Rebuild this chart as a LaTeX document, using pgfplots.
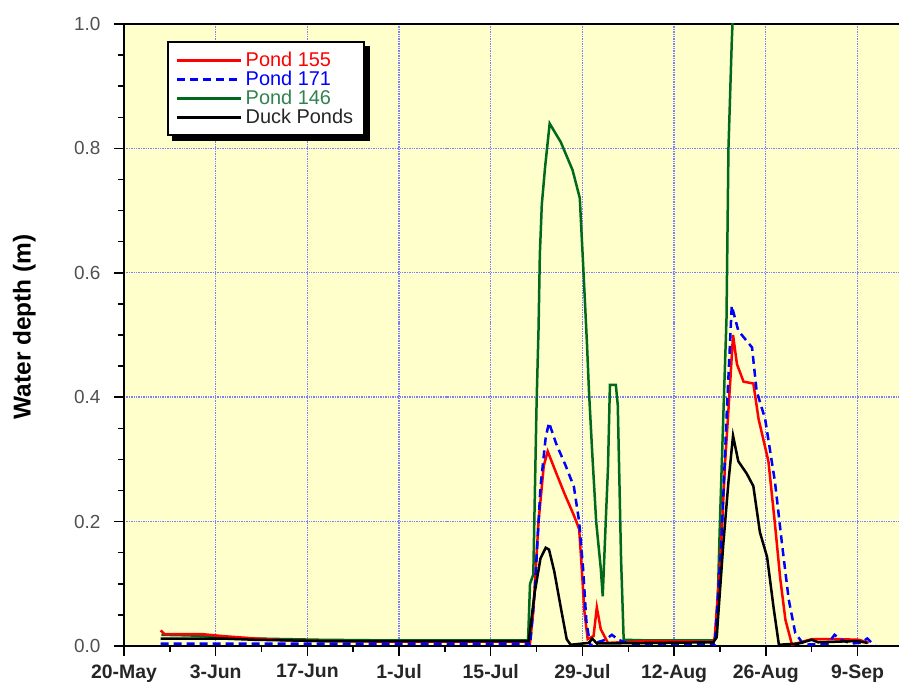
\documentclass[border=0pt]{standalone}
\usepackage{pgfplots}
\pgfplotsset{compat=1.18}
\usepackage{fontspec}
\setmainfont{Liberation Sans}
\definecolor{bgyellow}{RGB}{255,255,204}
\definecolor{pred}{RGB}{255,0,0}
\definecolor{pblue}{RGB}{0,0,255}
\definecolor{pgreen}{RGB}{0,105,30}
\definecolor{lgreen}{RGB}{50,130,80}
\definecolor{gridblue}{RGB}{125,125,255}
\definecolor{tickgray}{RGB}{80,80,80}

\pgfplotstableread{
x y
5.6 0.025
6.2 0.019
12 0.019
15 0.016
20 0.012
25 0.009
30 0.008
40 0.007
50 0.007
61.8 0.007
62.0 0.005
62.5 0.056
63.3 0.20
64.1 0.29
64.7 0.313
66.0 0.278
67.3 0.244
68.7 0.21
69.5 0.188
69.8 0.141
70.3 0.056
70.8 0.011
71.7 0.016
72.2 0.062
72.8 0.027
73.9 0.005
80 0.008
90 0.007
90.2 0.014
91.0 0.128
91.8 0.297
92.6 0.43
93.0 0.50
93.6 0.453
94.6 0.425
96.1 0.422
96.9 0.365
98.4 0.297
99.4 0.196
100.2 0.109
101.0 0.042
102.0 0.002
105 0.011
109.2 0.011
112.2 0.010
113.7 0.005
}\pondA

\pgfplotstableread{
x y
5.6 0.004
20 0.004
40 0.004
61.8 0.004
62.0 0.0
62.7 0.085
63.6 0.256
64.4 0.336
64.9 0.359
66.0 0.325
67.4 0.291
68.7 0.256
69.5 0.20
70.1 0.125
70.6 0.04
71.2 0.0
72 0.005
73.5 0.010
74.5 0.018
75.5 0.010
77 0.004
90 0.004
90.2 0.0
91.2 0.162
92.0 0.365
92.8 0.547
93.8 0.507
95.9 0.48
96.6 0.41
97.9 0.365
99.4 0.264
100.5 0.162
101.5 0.075
102.5 0.021
103.8 0.002
107.5 0.004
108.5 0.018
109.5 0.010
111 0.004
112.5 0.005
113.5 0.012
114.7 0.0
}\pondB

\pgfplotstableread{
x y
5.7 0.018
10 0.017
15 0.014
20 0.012
30 0.010
40 0.009
50 0.009
61.7 0.009
62.0 0.10
62.5 0.115
63.0 0.39
63.3 0.51
63.5 0.63
63.8 0.71
64.3 0.77
65.0 0.84
66.7 0.81
68.5 0.765
69.6 0.72
70.1 0.615
70.7 0.485
71.0 0.41
71.5 0.31
72.1 0.20
72.8 0.125
73.1 0.08
73.6 0.21
73.9 0.285
74.2 0.42
75.1 0.42
75.4 0.387
75.9 0.14
76.3 0.010
80 0.009
90 0.009
90.5 0.014
91.0 0.20
91.5 0.365
92.0 0.526
92.3 0.80
92.8 0.97
93.3 1.10
}\pondC

\pgfplotstableread{
x y
5.6 0.012
15 0.012
20 0.010
30 0.008
61.8 0.008
62.7 0.085
63.6 0.141
64.4 0.158
64.9 0.155
65.7 0.12
66.8 0.056
67.6 0.011
68.2 0.002
71.0 0.005
71.5 0.012
72.2 0.004
90 0.006
90.5 0.014
91.5 0.162
92.3 0.264
93.0 0.338
93.8 0.297
95.1 0.277
96.1 0.257
97.1 0.183
98.2 0.143
99.2 0.061
100.0 0.002
103 0.004
105 0.010
106 0.006
112 0.008
113.5 0.005
}\duck

\begin{document}
\begin{tikzpicture}
\useasboundingbox (0,0) rectangle (899bp,683bp);
\begin{axis}[
  at={(124bp,37bp)}, anchor=south west,
  scale only axis, width=778bp, height=622bp,
  xmin=0, xmax=118.8, ymin=0, ymax=1,
  axis background/.style={fill=bgyellow},
  axis line style={line width=2.5bp},
  tick align=outside, tick pos=left,
  major tick length=10bp, minor tick length=6bp,
  tick style={black, line width=1.5bp},
  xtick={0,14,28,42,56,70,84,98,112},
  xticklabels={20-May,3-Jun,17-Jun,1-Jul,15-Jul,29-Jul,12-Aug,26-Aug,9-Sep},
  minor x tick num=1,
  ytick={0,0.2,0.4,0.6,0.8,1},
  minor y tick num=3,
  grid=major,
  major grid style={gridblue, line width=1.4bp, densely dotted},
  /pgf/number format/assume math mode=true,
  y tick label style={font=\fontsize{19}{22}\selectfont, text=tickgray, xshift=-10bp,
    /pgf/number format/.cd, fixed, fixed zerofill, precision=1, /tikz/.cd},
  x tick label style={font=\bfseries\fontsize{19.5}{22}\selectfont, text=black!85, yshift=-5bp},
  ylabel={Water depth (m)},
  every axis y label/.style={at={(axis description cs:-0.128,0.513)}, rotate=90,
    anchor=center, font=\bfseries\fontsize{24.5}{28}\selectfont},
  legend image code/.code={\draw[#1] (0bp,0bp) -- (64bp,0bp);},
  legend style={name=leg, at={(axis description cs:0.0553,0.972)}, anchor=north west,
    draw=black, line width=1.8bp, fill=white,
    font=\fontsize{20}{23}\selectfont, inner xsep=8bp, inner ysep=8.3bp,
    row sep=0bp,
    nodes={inner xsep=3bp, inner ysep=0.3bp, text height=15.5bp, text depth=3bp}},
  legend cell align=left,
]
\addlegendimage{pred, line width=2.8bp}
\addlegendimage{pblue, line width=2.8bp, dash pattern=on 8bp off 5bp}
\addlegendimage{pgreen, line width=2.8bp}
\addlegendimage{black, line width=2.8bp}
\legend{\textcolor{pred}{Pond 155},\textcolor{pblue}{Pond 171},\textcolor{lgreen}{Pond 146},\textcolor{black!85}{Duck Ponds}}
\addplot[pgreen, line width=2.5bp, forget plot] table {\pondC};
\addplot[pred, line width=2.5bp, forget plot] table {\pondA};
\addplot[pblue, line width=2.5bp, dash pattern=on 8bp off 5bp, forget plot] table {\pondB};
\addplot[black, line width=2.5bp, forget plot] table {\duck};
\end{axis}
\fill[black] ([yshift=-5bp]leg.north east) rectangle ([xshift=5bp,yshift=-5bp]leg.south east);
\fill[black] ([xshift=5bp]leg.south west) rectangle ([xshift=5bp,yshift=-5bp]leg.south east);
\end{tikzpicture}
\end{document}
